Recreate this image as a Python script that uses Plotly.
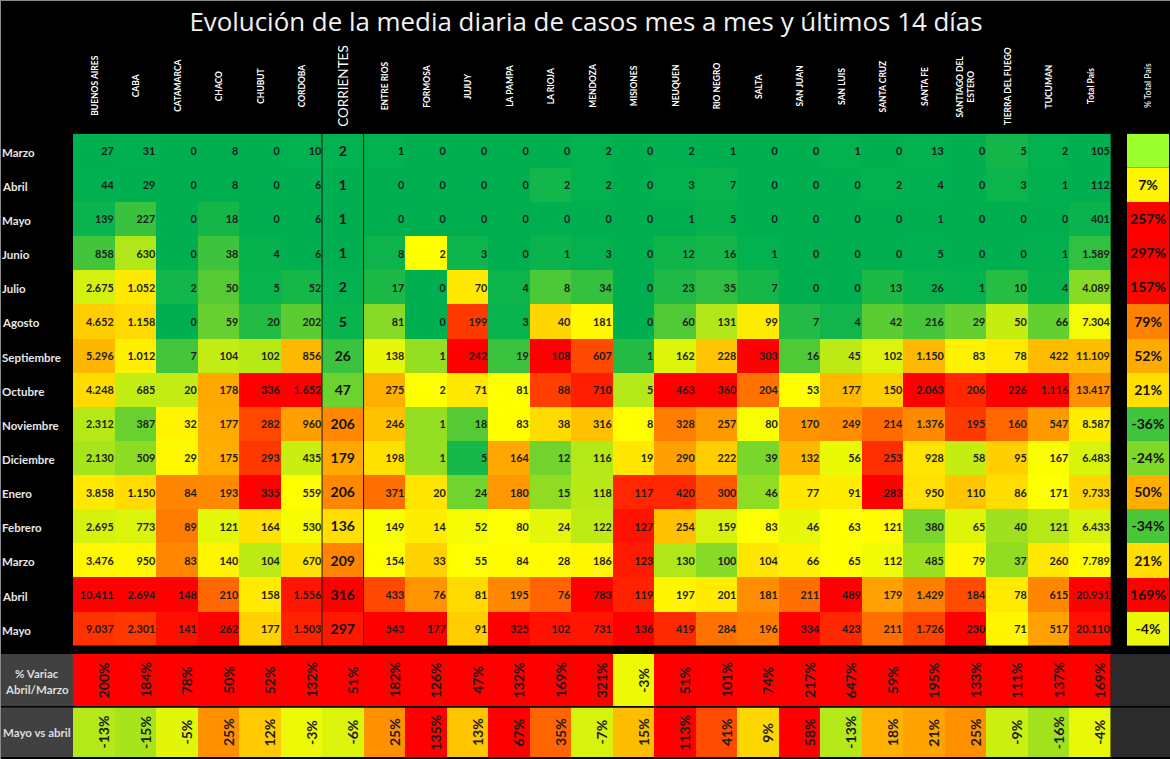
#!/usr/bin/python3
''' Evolucion de casos por provincia, heatmap estilo excel
'''
# Imports :
import numpy as np
import plotly.graph_objects as go

provincias = ['BUENOS AIRES', 'CABA', 'CATAMARCA', 'CHACO', 'CHUBUT', 'CORDOBA', 'CORRIENTES', 'ENTRE RIOS',
              'FORMOSA', 'JUJUY', 'LA PAMPA', 'LA RIOJA', 'MENDOZA', 'MISIONES', 'NEUQUEN', 'RIO NEGRO',
              'SALTA', 'SAN JUAN', 'SAN LUIS', 'SANTA CRUZ', 'SANTA FE', 'SANTIAGO DEL<br>ESTERO',
              'TIERRA DEL FUEGO', 'TUCUMAN', 'Total País']
meses = ['Marzo', 'Abril', 'Mayo', 'Junio', 'Julio', 'Agosto', 'Septiembre', 'Octubre', 'Noviembre',
         'Diciembre', 'Enero', 'Febrero', 'Marzo', 'Abril', 'Mayo']

marzo_20 = [27, 31, 0, 8, 0, 10, 2, 1, 0, 0, 0, 0, 2, 0, 2, 1, 0, 0, 1, 0, 13, 0, 5, 2, 105]
abril_20 = [44, 29, 0, 8, 0, 6, 1, 0, 0, 0, 0, 2, 2, 0, 3, 7, 0, 0, 0, 2, 4, 0, 3, 1, 112]
mayo_20 = [139, 227, 0, 18, 0, 6, 1, 0, 0, 0, 0, 0, 0, 0, 1, 5, 0, 0, 0, 0, 1, 0, 0, 0, 401]
junio_20 = [858, 630, 0, 38, 4, 6, 1, 8, 2, 3, 0, 1, 3, 0, 12, 16, 1, 0, 0, 0, 5, 0, 0, 1, 1589]
julio_20 = [2675, 1052, 2, 50, 5, 52, 2, 17, 0, 70, 4, 8, 34, 0, 23, 35, 7, 0, 0, 13, 26, 1, 10, 4, 4089]
agosto_20 = [4652, 1158, 0, 59, 20, 202, 5, 81, 0, 199, 3, 40, 181, 0, 60, 131, 99, 7, 4, 42, 216, 29, 50, 66, 7304]
septiembre_20 = [5296, 1012, 7, 104, 102, 856, 26, 138, 1, 242, 19, 108, 607, 1, 162, 228, 303, 16, 45, 102, 1150, 83, 78, 422, 11109]
octubre_20 = [4248, 685, 20, 178, 336, 1652, 47, 275, 2, 71, 81, 88, 710, 5, 463, 360, 204, 53, 177, 150, 2063, 206, 226, 1116, 13417]
noviembre_20 = [2312, 387, 32, 177, 282, 960, 206, 246, 1, 18, 83, 38, 316, 8, 328, 257, 80, 170, 249, 214, 1376, 195, 160, 547, 8587]
diciembre_20 = [2130, 509, 29, 175, 293, 435, 179, 198, 1, 5, 164, 12, 116, 19, 290, 222, 39, 132, 56, 253, 928, 58, 95, 167, 6483]
enero_21 = [3858, 1150, 84, 193, 335, 559, 206, 371, 20, 24, 180, 15, 118, 117, 420, 300, 46, 77, 91, 283, 950, 110, 86, 171, 9733]
febrero_21 = [2695, 773, 89, 121, 164, 530, 136, 149, 14, 52, 80, 24, 122, 127, 254, 159, 83, 46, 63, 121, 380, 65, 40, 121, 6433]
marzo_21 = [3476, 950, 83, 140, 104, 670, 209, 154, 33, 55, 84, 28, 186, 123, 130, 100, 104, 66, 65, 112, 485, 79, 37, 260, 7789]
abril_21 = [10411, 2694, 148, 210, 158, 1556, 316, 433, 76, 81, 195, 76, 783, 119, 197, 201, 181, 211, 489, 179, 1429, 184, 78, 615, 20951]
mayo_21 = [9037, 2301, 141, 262, 177, 1503, 297, 543, 177, 91, 325, 102, 731, 136, 419, 284, 196, 334, 423, 211, 1726, 230, 71, 517, 20110]

var_abril_marzo = [200, 184, 78, 50, 52, 132, 51, 182, 126, 47, 132, 169, 321, -3, 51, 101, 74, 217, 647, 59, 195, 133, 111, 137, 169]
var_mayo_abril = [-13, -15, -5, 25, 12, -3, -6, 25, 135, 13, 67, 35, -7, 15, 113, 41, 9, 58, -13, 18, 21, 25, -9, -16, -4]
pct_total_pais = [None, 7, 257, 297, 157, 79, 52, 21, -36, -24, 50, -34, 21, 169, -4]

W = 1170
H = 759
CORRIENTES = 6
BAJAR = 0.05  # excel text sits a bit under the middle of the cell
TXT = '#1c1c1c'
ESCALA = [[0, '#00B050'], [0.5, '#FFFF00'], [1, '#FF0000']]


def px_x(a):
    return a / W


def px_y(a):
    return 1 - a / H


def normalizar(valores, bajo, medio, alto):
    # excel 3 color scale: bajo->0, medio->0.5, alto->1
    v = np.array(valores, dtype=float)
    return np.interp(v, [bajo, medio, alto], [0, 0.5, 1])


def miles(v):
    return f'{v:,}'.replace(',', '.')


tabla = np.array([marzo_20, abril_20, mayo_20, junio_20, julio_20, agosto_20, septiembre_20, octubre_20,
                  noviembre_20, diciembre_20, enero_21, febrero_21, marzo_21, abril_21, mayo_21])
columnas = list(range(len(provincias)))
filas = list(range(len(meses)))

# each province has its own colour scale, as in the spreadsheet
colores = np.zeros(tabla.shape)
for c in columnas:
    col = tabla[:, c]
    colores[:, c] = normalizar(col, col.min(), np.percentile(col, 55), col.max())

fig = go.Figure()
fig.add_trace(go.Heatmap(x=columnas, y=filas, z=colores, colorscale=ESCALA, zmin=0, zmax=1,
                         showscale=False, hoverinfo='skip', xaxis='x', yaxis='y'))

# right aligned numbers
xs, ys, textos = [], [], []
for f in filas:
    for c in columnas:
        if c != CORRIENTES:
            xs.append(c + 0.48)
            ys.append(f + BAJAR)
            textos.append(miles(int(tabla[f, c])))
fig.add_trace(go.Scatter(x=xs, y=ys, text=textos, mode='text', textposition='middle left',
                         textfont=dict(family='Lato', size=10.8, color=TXT, weight='bold'),
                         hoverinfo='skip', xaxis='x', yaxis='y'))
# Corrientes goes bigger and centered
fig.add_trace(go.Scatter(x=[CORRIENTES] * len(filas), y=[f + BAJAR for f in filas],
                         text=[miles(int(v)) for v in tabla[:, CORRIENTES]],
                         mode='text', textposition='middle center',
                         textfont=dict(family='Lato', size=14, color='#111111', weight='bold'),
                         hoverinfo='skip', xaxis='x', yaxis='y'))

# variation rows
fig.add_trace(go.Heatmap(x=columnas, y=[0], z=[normalizar(var_abril_marzo, -44, 0, 47)], colorscale=ESCALA,
                         zmin=0, zmax=1, showscale=False, hoverinfo='skip', xaxis='x', yaxis='y2'))
fig.add_trace(go.Heatmap(x=columnas, y=[0], z=[normalizar(var_mayo_abril, -44, 0, 58)], colorscale=ESCALA,
                         zmin=0, zmax=1, showscale=False, hoverinfo='skip', xaxis='x', yaxis='y3'))

# % total column, first cell is blank with its own fill
total_validos = [v for v in pct_total_pais if v is not None]
fig.add_trace(go.Heatmap(x=[0], y=filas[1:], z=[[z] for z in normalizar(total_validos, -48, 0, 160)],
                         colorscale=ESCALA, zmin=0, zmax=1, showscale=False, hoverinfo='skip',
                         xaxis='x2', yaxis='y'))
fig.add_trace(go.Heatmap(x=[0], y=[0], z=[[1]], colorscale=[[0, '#9BFF2E'], [1, '#9BFF2E']],
                         showscale=False, hoverinfo='skip', xaxis='x2', yaxis='y'))
fig.add_trace(go.Scatter(x=[0] * len(total_validos), y=[f + BAJAR for f in filas[1:]],
                         text=[f'{v}%' for v in total_validos],
                         mode='text', textposition='middle center',
                         textfont=dict(family='Lato', size=14, color='#111111', weight='bold'),
                         hoverinfo='skip', xaxis='x2', yaxis='y'))

anotaciones = []
# column headers
for c, nombre in zip(columnas, provincias):
    grande = c == CORRIENTES
    anotaciones.append(dict(x=c, y=px_y(86), xref='x', yref='paper', text=nombre, textangle=-90, showarrow=False,
                            xanchor='center', yanchor='middle', xshift=0 if grande else 1,
                            font=dict(family='Lato', size=13.5 if grande else 8.5, color='white',
                                      weight='normal' if grande else 'bold')))
anotaciones.append(dict(x=0, y=px_y(86), xref='x2', yref='paper', text='% Total País', textangle=-90,
                        showarrow=False, xanchor='center', yanchor='middle',
                        font=dict(family='Lato', size=8.5, color='#dddddd', weight='bold')))
# row labels
for f, mes in zip(filas, meses):
    anotaciones.append(dict(x=0, y=f, xref='paper', yref='y', text=mes, xanchor='left', yanchor='middle',
                            showarrow=False, yshift=-1.5,
                            font=dict(family='Lato', size=11.5, color='#e6e6e6', weight='bold')))
# the two lines of this label are spread wider than plotly's line height
anotaciones.append(dict(x=px_x(37), y=0, xref='paper', yref='y2', text='% Variac', showarrow=False,
                        xanchor='center', yanchor='middle', yshift=7,
                        font=dict(family='Lato', size=11.5, color='#dddddd', weight='bold')))
anotaciones.append(dict(x=px_x(37), y=0, xref='paper', yref='y2', text='Abril/Marzo', showarrow=False,
                        xanchor='center', yanchor='middle', yshift=-9,
                        font=dict(family='Lato', size=11.5, color='#dddddd', weight='bold')))
anotaciones.append(dict(x=px_x(37), y=0, xref='paper', yref='y3', text='Mayo vs abril', showarrow=False,
                        xanchor='center', yanchor='middle',
                        font=dict(family='Lato', size=11.5, color='#dddddd', weight='bold')))
# rotated percentages
for eje, serie in (('y2', var_abril_marzo), ('y3', var_mayo_abril)):
    for c, v in zip(columnas, serie):
        anotaciones.append(dict(x=c, y=0, xref='x', yref=eje, text=f'{v}%', textangle=-90, showarrow=False,
                                xanchor='center', yanchor='middle', xshift=9.5,
                                font=dict(family='Lato', size=14, color=TXT, weight='bold')))

formas = [
    # grey label cells and the empty block bottom right
    dict(type='rect', xref='paper', yref='paper', x0=px_x(1), x1=px_x(73), y0=px_y(706), y1=px_y(654),
         fillcolor='#414141', line_width=0),
    dict(type='rect', xref='paper', yref='paper', x0=px_x(1), x1=px_x(73), y0=px_y(757), y1=px_y(707.5),
         fillcolor='#414141', line_width=0),
    dict(type='rect', xref='paper', yref='paper', x0=px_x(1110.7), x1=1, y0=px_y(706), y1=px_y(654),
         fillcolor='#2b2b2b', line_width=0),
    dict(type='rect', xref='paper', yref='paper', x0=px_x(1110.7), x1=1, y0=px_y(757), y1=px_y(707.5),
         fillcolor='#2b2b2b', line_width=0),
    # lines around Corrientes
    dict(type='line', xref='x', yref='y', x0=CORRIENTES - 0.5, x1=CORRIENTES - 0.5, y0=-0.5, y1=14.5,
         line=dict(color='#1a1a1a', width=1)),
    dict(type='line', xref='x', yref='y', x0=CORRIENTES + 0.5, x1=CORRIENTES + 0.5, y0=-0.5, y1=14.5,
         line=dict(color='#1a1a1a', width=1)),
    # picture border
    dict(type='line', xref='paper', yref='paper', x0=0, x1=1, y0=px_y(0.5), y1=px_y(0.5),
         line=dict(color='#8a8a8a', width=1)),
    dict(type='line', xref='paper', yref='paper', x0=px_x(0.5), x1=px_x(0.5), y0=0, y1=1,
         line=dict(color='#8a8a8a', width=1)),
]

oculto = dict(visible=False, fixedrange=True)
fig.update_layout(
    width=W, height=H, margin=dict(l=0, r=0, t=0, b=0, pad=0),
    paper_bgcolor='black', plot_bgcolor='black', showlegend=False,
    title=dict(text='Evolución de la media diaria de casos mes a mes y últimos 14 días',
               x=586 / W, xanchor='center', y=px_y(22), yanchor='middle',
               font=dict(family='Open Sans', size=25.9, color='#f2f2f2')),
    xaxis=dict(domain=[px_x(73), px_x(1110.7)], range=[-0.5, 24.5], anchor='y', **oculto),
    xaxis2=dict(domain=[px_x(1127), px_x(1169)], range=[-0.5, 0.5], anchor='y', **oculto),
    yaxis=dict(domain=[px_y(645.7), px_y(133.7)], range=[14.5, -0.5], anchor='x', **oculto),
    yaxis2=dict(domain=[px_y(706), px_y(654)], range=[-0.5, 0.5], anchor='x', **oculto),
    yaxis3=dict(domain=[px_y(757), px_y(707.5)], range=[-0.5, 0.5], anchor='x', **oculto),
    annotations=anotaciones, shapes=formas,
)

fig.write_html('out.html', config=dict(displayModeBar=False),
               post_script="document.body.style.margin='0';document.body.style.background='black';")
